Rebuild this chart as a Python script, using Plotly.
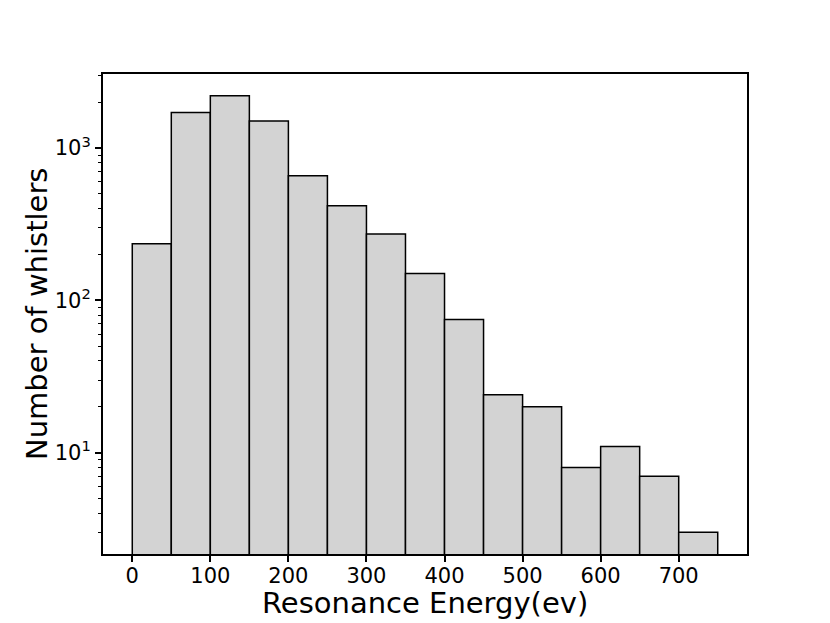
import plotly.graph_objects as go

# Histogram data: bin edges (eV) and counts
bin_edges = [0, 50, 100, 150, 200, 250, 300, 350, 400, 450, 500, 550, 600, 650, 700, 750]
counts = [235, 1713, 2203, 1504, 658, 418, 273, 150, 75, 24, 20, 8, 11, 7, 3]

x_tick_vals = [0, 100, 200, 300, 400, 500, 600, 700]
y_tick_vals = [10, 100, 1000]
y_tick_text = ["10<sup>1</sup>", "10<sup>2</sup>", "10<sup>3</sup>"]
x_title = "Resonance Energy(ev)"
y_title = "Number of whistlers"

centers = [(a + b) / 2 for a, b in zip(bin_edges[:-1], bin_edges[1:])]
widths = [b - a for a, b in zip(bin_edges[:-1], bin_edges[1:])]

minor_vals = [m * 10 ** k for k in range(0, 4) for m in range(2, 10)]

fig = go.Figure(
    go.Bar(
        x=centers,
        y=counts,
        width=widths,
        marker=dict(color="#d3d3d3", line=dict(color="black", width=1.5)),
    )
)

font = "DejaVu Sans, Liberation Sans, sans-serif"
fig.update_layout(
    width=830,
    height=623,
    margin=dict(l=95, r=91, t=66, b=77),
    paper_bgcolor="white",
    plot_bgcolor="white",
    showlegend=False,
    font=dict(family=font, color="black"),
    xaxis=dict(
        range=[-37.5, 787.5],
        tickmode="array",
        tickvals=x_tick_vals,
        ticks="outside",
        ticklen=6,
        tickwidth=1.5,
        tickcolor="black",
        ticklabelstandoff=-4,
        showline=True,
        linecolor="black",
        linewidth=2,
        mirror=True,
        showgrid=False,
        zeroline=False,
        tickfont=dict(size=21),
    ),
    yaxis=dict(
        type="log",
        range=[0.335, 3.486],
        tickmode="array",
        tickvals=y_tick_vals,
        ticktext=y_tick_text,
        ticks="outside",
        ticklen=6,
        tickwidth=1.5,
        tickcolor="black",
        minor=dict(tickvals=minor_vals, ticks="outside", ticklen=3.5, tickwidth=1.2, tickcolor="black", showgrid=False),
        showline=True,
        linecolor="black",
        linewidth=2,
        mirror=True,
        showgrid=False,
        zeroline=False,
        tickfont=dict(size=21),
    ),
    annotations=[
        dict(text=x_title, xref="paper", yref="paper", x=0.5, y=-0.102,
             xanchor="center", yanchor="middle", showarrow=False, font=dict(size=29)),
        dict(text=y_title, xref="paper", yref="paper", x=-0.1025, y=0.5, textangle=-90,
             xanchor="center", yanchor="middle", showarrow=False, font=dict(size=29)),
    ],
)

fig.write_html("out.html")
